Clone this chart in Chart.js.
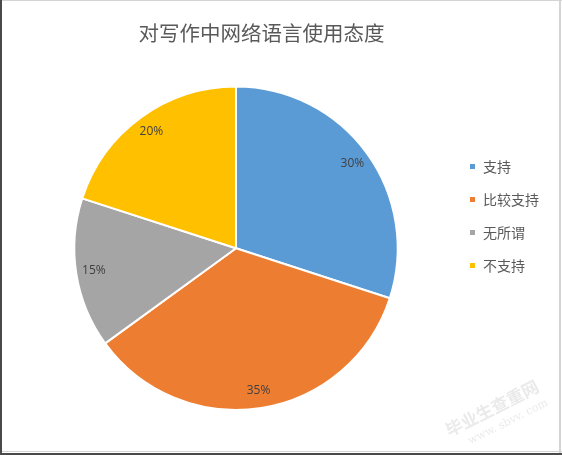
<!DOCTYPE html>
<html>
<head>
<meta charset="utf-8">
<script src="https://cdn.jsdelivr.net/npm/chart.js@4/dist/chart.umd.min.js"></script>
<style>
  html, body { margin: 0; padding: 0; background: #fff; }
  #wrap { width: 562px; height: 455px; position: relative; }
</style>
</head>
<body>
<div id="wrap"><canvas id="attitudeChart"></canvas></div>
<script>
// Chart data
const chartTitle = '对写作中网络语言使用态度';
const categories = ['支持', '比较支持', '无所谓', '不支持'];
const shares = [30, 35, 15, 20];
const sliceColors = ['#5B9BD5', '#ED7D31', '#A5A5A5', '#FFC000'];

const CJK_FONT = '"Noto Sans CJK SC", "Noto Sans", sans-serif';

// Percent labels inside each slice, near the rim
const sliceLabels = {
    id: 'sliceLabels',
    afterDatasetsDraw(chart) {
        const ctx = chart.ctx;
        const meta = chart.getDatasetMeta(0);
        ctx.save();
        ctx.font = '12px "Open Sans", "Liberation Sans", sans-serif';
        ctx.fillStyle = '#404040';
        ctx.textAlign = 'center';
        ctx.textBaseline = 'middle';
        meta.data.forEach(function (arc, i) {
            const mid = (arc.startAngle + arc.endAngle) / 2;
            const r = arc.outerRadius * 0.89;
            ctx.fillText(shares[i] + '%', arc.x + Math.cos(mid) * r, arc.y + Math.sin(mid) * r);
        });
        ctx.restore();
    }
};

// Title is centred over the whole plot, not over plot + legend
const titleSpan = {
    id: 'titleSpan',
    afterLayout(chart) {
        chart.titleBlock.left = 0;
        chart.titleBlock.right = 523;
    }
};

// Frame lines and faint watermark
const frame = {
    id: 'frame',
    afterDraw(chart) {
        const ctx = chart.ctx;
        const w = chart.width, h = chart.height;
        ctx.save();
        ctx.fillStyle = '#d4d4d4';
        ctx.fillRect(0, 0, w, 1);
        ctx.fillRect(559, 0, 2, h);
        ctx.fillRect(0, 451, w, 1);
        ctx.fillStyle = '#4a4a4a';
        ctx.fillRect(0, 0, 2, h);
        ctx.fillRect(0, 453, w, 2);

        ctx.translate(495, 414);
        ctx.rotate(-0.47);
        ctx.fillStyle = 'rgba(170, 170, 170, 0.25)';
        ctx.textAlign = 'center';
        ctx.font = 'bold 17px ' + CJK_FONT;
        ctx.fillText('毕业生查重网', 0, 0);
        ctx.font = '11px "DejaVu Serif", serif';
        ctx.fillText('www. sbvv. com', 8, 16);
        ctx.restore();
    }
};

new Chart(document.getElementById('attitudeChart'), {
    type: 'pie',
    data: {
        labels: categories,
        datasets: [{
            data: shares,
            backgroundColor: sliceColors,
            borderColor: '#ffffff',
            borderWidth: 2,
            hoverOffset: 0
        }]
    },
    options: {
        responsive: true,
        maintainAspectRatio: false,
        animation: false,
        layout: {
            padding: { top: 21, bottom: 44, left: 22, right: 13 }
        },
        plugins: {
            title: {
                display: true,
                text: chartTitle,
                color: '#595959',
                font: { family: CJK_FONT, size: 20.5, weight: 'normal' },
                padding: { top: 0, bottom: 40 }
            },
            legend: {
                position: 'right',
                labels: {
                    boxWidth: 7,
                    boxHeight: 7,
                    padding: 19,
                    color: '#595959',
                    font: { family: CJK_FONT, size: 14 }
                }
            },
            tooltip: { enabled: false }
        }
    },
    plugins: [sliceLabels, titleSpan, frame]
});
</script>
</body>
</html>
